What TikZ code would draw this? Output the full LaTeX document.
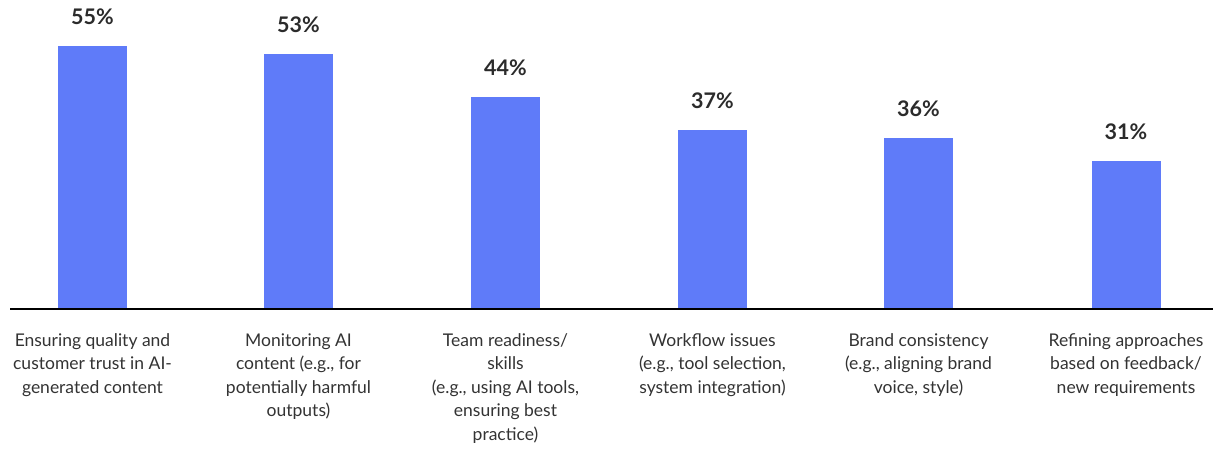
\documentclass[tikz,border=0pt]{standalone}
\usepackage{fontspec}
\setmainfont{Lato}
\definecolor{barblue}{HTML}{5F7BF9}
\definecolor{txt}{HTML}{333333}
\definecolor{pct}{HTML}{2B2B2B}
\begin{document}
\begin{tikzpicture}[x=1pt,y=1pt,
  barbox/.style={fill=barblue,draw=none,minimum width=69pt,inner sep=0pt,anchor=south},
  pctlabel/.style={font=\fontsize{21.5}{25}\selectfont\bfseries,text=pct,inner sep=0pt},
  catlabel/.style={font=\fontsize{17.5}{23.4}\selectfont,text=txt,align=center,anchor=north,inner sep=0pt},
  axisline/.style={line width=2.4pt,draw=black}]
\useasboundingbox (0,0) rectangle (1213,449);
% bars (baseline at y=449-309=140)
\node[barbox,minimum height=263pt] (b1) at (92.5,140) {};
\node[barbox,minimum height=255pt] (b2) at (298.5,140) {};
\node[barbox,minimum height=212pt] (b3) at (505.5,140) {};
\node[barbox,minimum height=179pt] (b4) at (712.5,140) {};
\node[barbox,minimum height=171pt] (b5) at (918.5,140) {};
\node[barbox,minimum height=148pt] (b6) at (1126,140) {};
% percentages
\node[pctlabel] (p1) at ([yshift=29pt]b1.north) {55\%};
\node[pctlabel] (p2) at ([yshift=29pt]b2.north) {53\%};
\node[pctlabel] (p3) at ([yshift=29pt]b3.north) {44\%};
\node[pctlabel] (p4) at ([yshift=29pt]b4.north) {37\%};
\node[pctlabel] (p5) at ([yshift=29pt]b5.north) {36\%};
\node[pctlabel] (p6) at ([yshift=29pt]b6.north) {31\%};
% axis
\coordinate (axL) at (10,140);
\coordinate (axR) at (1213,140);
\draw[axisline] (axL) -- (axR);
% category labels
\node[catlabel] (c1) at (92.5,115.5) {Ensuring quality and\\customer trust in AI-\\generated content};
\node[catlabel] (c2) at (298.5,115.5) {Monitoring AI\\content (e.g., for\\potentially harmful\\outputs)};
\node[catlabel] (c3) at (505.5,115.5) {Team readiness/\\skills\\(e.g., using AI tools,\\ensuring best\\practice)};
\node[catlabel] (c4) at (712.5,115.5) {Workflow issues\\(e.g., tool selection,\\system integration)};
\node[catlabel] (c5) at (918.5,115.5) {Brand consistency\\(e.g., aligning brand\\voice, style)};
\node[catlabel] (c6) at (1126,115.5) {Refining approaches\\based on feedback/\\new requirements};
\end{tikzpicture}
\end{document}
